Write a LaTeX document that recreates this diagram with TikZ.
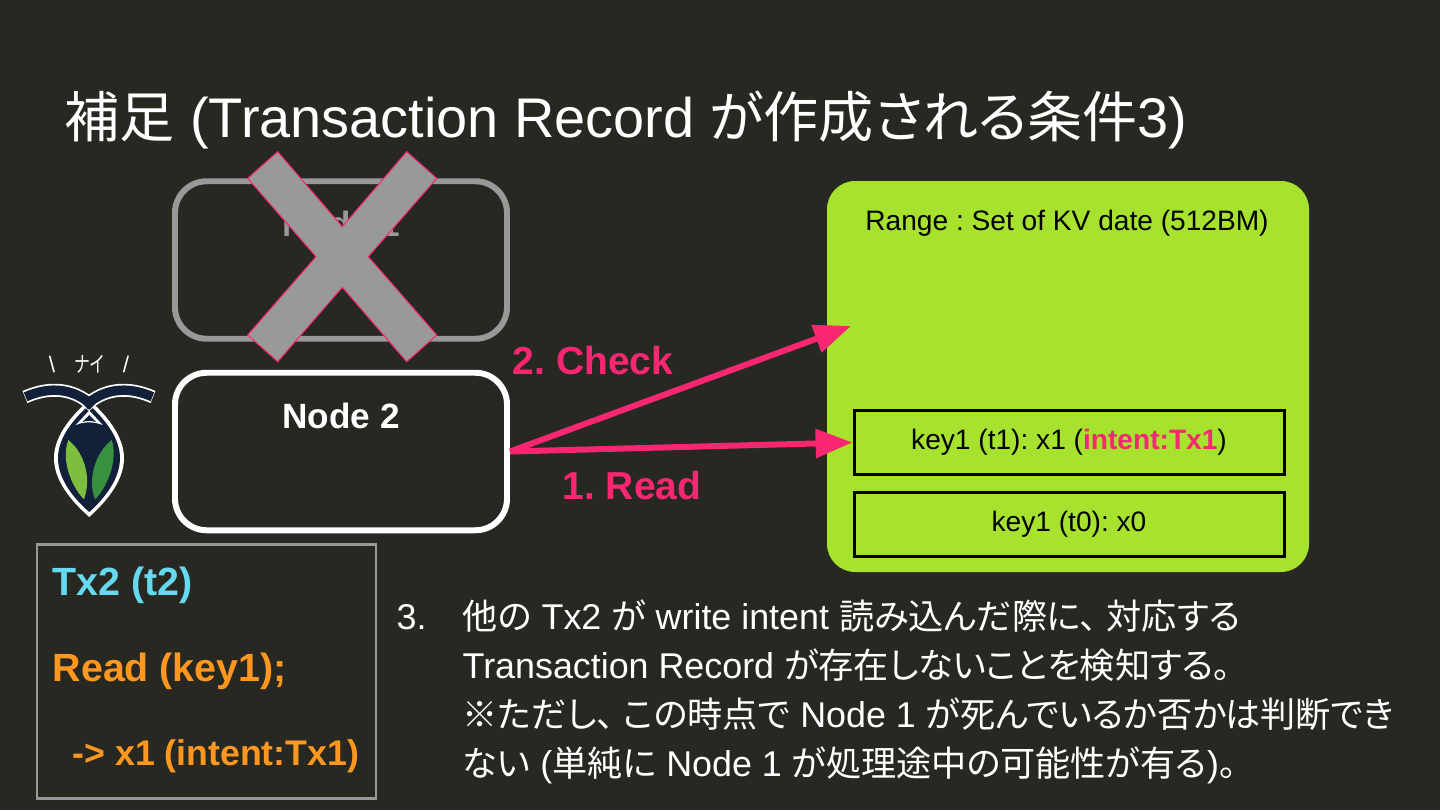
\documentclass[tikz,border=0pt]{standalone}
\usepackage{fontspec}
\usepackage{xcolor}
\usepackage{tikz}
\usetikzlibrary{positioning, arrows.meta}
\setmainfont{Liberation Sans}
\newfontfamily\cjk[Scale=0.98, RawFeature=+palt]{Noto Sans CJK JP}
\newfontfamily\cjkTitle[Scale=0.985, RawFeature=+palt]{Noto Sans CJK JP}
\newcommand{\jp}[1]{{\cjk #1}}
\newcommand{\jptitle}[1]{{\cjkTitle #1}}
\newcommand{\tenGap}{、\hspace{.26em}}
\frenchspacing
\definecolor{slideBg}{HTML}{272822}
\definecolor{accPink}{HTML}{F92672}
\definecolor{accGreen}{HTML}{A6E22E}
\definecolor{accCyan}{HTML}{66D9EF}
\definecolor{accOrange}{HTML}{FD971F}
\definecolor{mutedGray}{HTML}{999999}
\definecolor{logoNavy}{HTML}{132039}
\definecolor{logoLeafA}{HTML}{7DBE3F}
\definecolor{logoLeafB}{HTML}{37913F}
\tikzset{
  nodebox/.style={rounded corners=9pt, line width=1.7pt, minimum width=3.32cm, minimum height=1.575cm, inner sep=0pt},
  keybox/.style={draw=black, line width=.85pt, minimum width=4.3cm, minimum height=.64cm, inner sep=0pt, font=\fontsize{8pt}{9pt}\selectfont, text=black},
  flowarrow/.style={draw=accPink, line width=1.7pt, -{Triangle[length=10.5pt, width=8pt]}},
  flowlabel/.style={text=accPink, font=\fontsize{11.1pt}{13pt}\selectfont\bfseries},
  txtext/.style={anchor=west, inner sep=0pt, font=\fontsize{11.2pt}{13pt}\selectfont\bfseries},
  bodytext/.style={anchor=base west, inner sep=0pt, text=white, font=\fontsize{10.2pt}{12pt}\selectfont},
}
\begin{document}
\begin{tikzpicture}[x=.1mm, y=-.1mm]
  \useasboundingbox (0,0) rectangle (1440,810);
  \fill[slideBg] (0,0) rectangle (1440,810);
  % Title
  \node[anchor=base west, inner sep=0pt, text=white, font=\fontsize{15.9pt}{18pt}\selectfont] (title) at (64,137)
    {\jptitle{補足} (Transaction Record \jptitle{が作成される条件}3)};
  % Range
  \node[fill=accGreen, rounded corners=8pt, minimum width=4.82cm, minimum height=3.91cm, inner sep=0pt] (range) at (1068,376.5) {};
  \node[text=black, font=\fontsize{8pt}{9pt}\selectfont] (rangeTitle) at (1067,223) {Range : Set of KV date (512BM)};
  \node[keybox] (keyA) at (1069,442.5) {key1 (t1): x1 ({\color{accPink}\bfseries intent:Tx1})};
  \node[keybox] (keyB) at (1069,524.5) {key1 (t0): x0};
  \coordinate (checkEnd) at (851,326);
  % Node 1
  \node[nodebox, draw=mutedGray] (nodeA) at (341,260) {};
  \node[text=mutedGray, font=\fontsize{10pt}{12pt}\selectfont\bfseries] (nodeAText) at (341,224) {Node 1};
  \filldraw[fill=mutedGray, draw=accPink, line width=.3pt]
    (277.7,151.7) -- (342.3,226.7) -- (406.7,151.7) -- (436.7,178.3) -- (368.3,256.7)
    -- (436.7,335) -- (406.7,361.7) -- (342.3,287.3) -- (277.7,361.7) -- (247.7,335)
    -- (316,256.7) -- (247.7,178.3) -- cycle;
  % Node 2
  \node[nodebox, draw=white] (nodeB) at (341,451.5) {};
  \node[text=white, font=\fontsize{10pt}{12pt}\selectfont\bfseries] (nodeBText) at (341,416) {Node 2};
  % Arrows
  \draw[flowarrow] (nodeB.east) -- (keyA.west);
  \draw[flowarrow] (nodeB.east) -- (checkEnd);
  \node[flowlabel] (checkLabel) at (593,361) {2. Check};
  \node[flowlabel] (readLabel) at (632,486) {1. Read};
  % Logo
  \node[text=white, inner sep=0pt, font=\fontsize{6.4pt}{8pt}\selectfont] (logoText) at (89,364)
    {\textbackslash\hspace{5.5pt}\scalebox{.72}[1]{\jp{ナイ}}\hspace{5.5pt}/};
  \fill[white] (89.3,400) .. controls (112,420) and (124,440) .. (124,458) .. controls (124,480) and (108,500) .. (89.3,517)
    .. controls (70,500) and (54,480) .. (54,458) .. controls (54,440) and (66,420) .. (89.3,400) -- cycle;
  \fill[logoNavy] (89.3,405) .. controls (109,423) and (120,441) .. (120,458) .. controls (120,478) and (106,497) .. (89.3,512)
    .. controls (72,497) and (58,478) .. (58,458) .. controls (58,441) and (69,423) .. (89.3,405) -- cycle;
  \draw[white, line width=3.7pt] (25,397) .. controls (50,386) and (74,388) .. (93,406);
  \draw[white, line width=3.7pt] (153,397) .. controls (128,386) and (104,388) .. (85,406);
  \draw[logoNavy, line width=2.7pt] (25.6,396.8) .. controls (50,386) and (74,388) .. (93,406);
  \draw[logoNavy, line width=2.7pt] (152.4,396.8) .. controls (128,386) and (104,388) .. (85,406);
  \fill[white] (89.3,410.5) -- (102.7,425) .. controls (94,421.5) and (84,421.5) .. (75.7,425) -- cycle;
  \fill[logoNavy] (89.3,415) -- (96,422) .. controls (91,420.5) and (87,420.5) .. (82.5,422) -- cycle;
  \fill[logoLeafA] (68.3,440) .. controls (84,452) and (92,478) .. (84,499.3) .. controls (74,490) and (60,462) .. (68.3,440) -- cycle;
  \fill[logoLeafB] (111.7,440) .. controls (96,452) and (87,478) .. (95,499.3) .. controls (105,490) and (119,462) .. (111.7,440) -- cycle;
  % Tx2 box
  \node[draw=mutedGray, line width=.85pt, minimum width=3.39cm, minimum height=2.54cm, inner sep=0pt] (txBox) at (206.5,671) {};
  \node[txtext, text=accCyan] (txName) at (52,585) {Tx2 (t2)};
  \node[txtext, text=accOrange] (txRead) at (52,671) {Read (key1);};
  \node[txtext, text=accOrange, font=\fontsize{10.15pt}{12pt}\selectfont\bfseries] (txResult) at (72,756) {-> x1 (intent:Tx1)};
  % Description
  \node[bodytext] (stepNo) at (396,629) {3.};
  \node[bodytext] (lineA) at (462,629) {\jp{他の} Tx2 \jp{が} write intent \jp{読み込んだ際に\tenGap 対応する}};
  \node[bodytext] (lineB) at (462,678) {Transaction Record \jp{が存在しないことを検知する。}};
  \node[bodytext] (lineC) at (462,727) {\jp{※ただし\tenGap この時点で} Node 1 \jp{が死んでいるか否かは判断でき}};
  \node[bodytext] (lineD) at (462,776) {\jp{ない} (\jp{単純に} Node 1 \jp{が処理途中の可能性が有る})\jp{。}};
\end{tikzpicture}
\end{document}
